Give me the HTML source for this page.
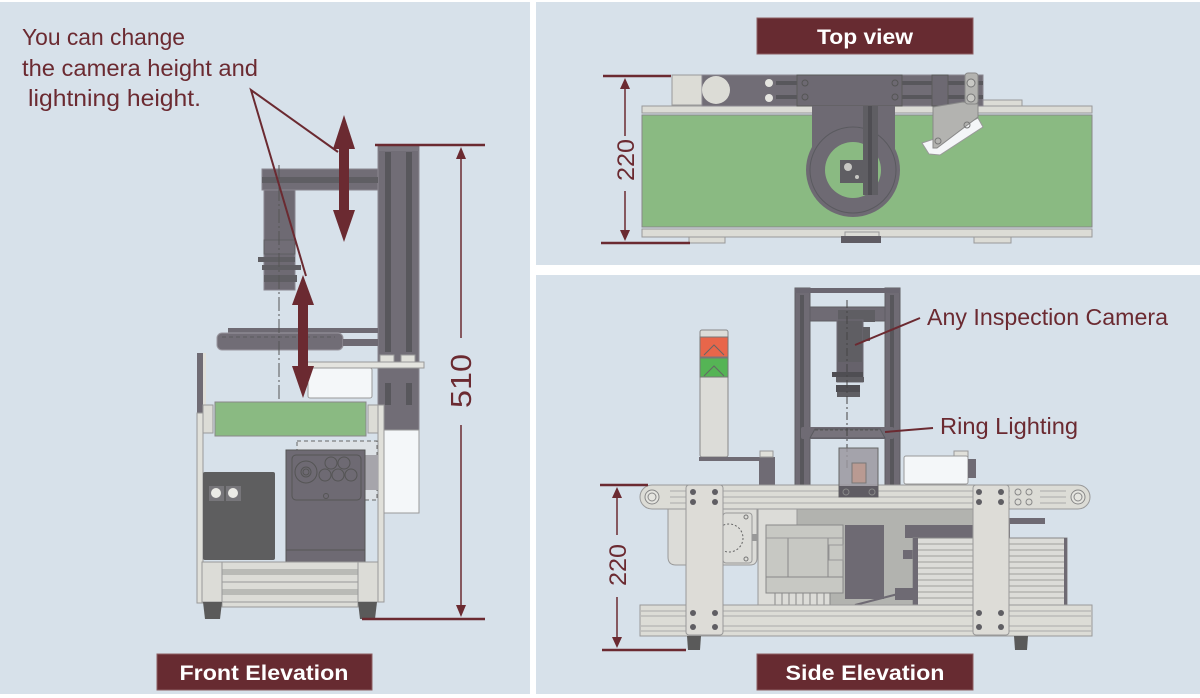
<!DOCTYPE html>
<html><head><meta charset="utf-8"><style>
html,body{margin:0;padding:0;background:#fff;}
svg{display:block;}
text{font-family:"Liberation Sans",sans-serif;}
</style></head><body>
<svg width="1200" height="698" viewBox="0 0 1200 698" xmlns="http://www.w3.org/2000/svg">
<rect width="1200" height="698" fill="#ffffff"/>
<rect x="0" y="2" width="530" height="692" fill="#d7e1ea"/>
<rect x="536" y="2" width="664" height="263" fill="#d7e1ea"/>
<rect x="536" y="275" width="664" height="419" fill="#d7e1ea"/>

<!-- ================= FRONT ELEVATION ================= -->
<g stroke-width="1">
<!-- column -->
<rect x="378" y="145" width="41" height="285" fill="#716d76" stroke="#8a8790"/>
<rect x="385" y="152" width="6" height="200" fill="#58575c"/>
<rect x="406" y="152" width="6" height="200" fill="#58575c"/>
<rect x="385" y="383" width="6" height="22" fill="#58575c"/>
<rect x="406" y="383" width="6" height="22" fill="#58575c"/>
<rect x="378" y="145" width="41" height="6" fill="#7b7780"/>
<!-- arm -->
<rect x="262" y="169" width="116" height="21" fill="#716d76" stroke="#8a8790"/>
<rect x="262" y="177" width="116" height="6" fill="#5f5e63"/>
<!-- camera body -->
<rect x="264" y="190" width="31" height="100" fill="#6e6a73" stroke="#8a8790"/>
<rect x="264" y="240" width="31" height="14" fill="#716d76" stroke="#5f5e63"/>
<rect x="258" y="257" width="37" height="5" fill="#5f5e63"/>
<rect x="262" y="265" width="39" height="5" fill="#5f5e63"/>
<rect x="264" y="275" width="33" height="7" fill="#5f5e63"/>
<!-- ring light -->
<rect x="228" y="328" width="150" height="5" fill="#6e6a73"/>
<rect x="217" y="333" width="126" height="17" rx="5" fill="#716d76" stroke="#9a98a0"/>
<line x1="222" y1="337" x2="335" y2="337" stroke="#5a5a5f" stroke-dasharray="4 3"/>
<rect x="343" y="339" width="35" height="7" fill="#6e6a73"/>
<!-- blocks & rail -->
<rect x="380" y="355" width="14" height="8" fill="#e0e0da" stroke="#999"/>
<rect x="401" y="355" width="14" height="8" fill="#e0e0da" stroke="#999"/>
<rect x="305" y="362" width="119" height="6" fill="#e4e4df" stroke="#999"/>
<rect x="308" y="368" width="64" height="30" rx="2" fill="#f4f7f9" stroke="#999"/>
<!-- white box under column -->
<rect x="383" y="430" width="36" height="83" fill="#f4f7f9" stroke="#999"/>
<!-- left posts -->
<rect x="197" y="353" width="9" height="60" fill="#6f6b74"/>
<rect x="203" y="353" width="3" height="60" fill="#e0e0da"/>
<rect x="197" y="413" width="6" height="190" fill="#e0e0da" stroke="#999"/>
<rect x="378" y="405" width="6" height="197" fill="#e0e0da" stroke="#999"/>
<!-- green roller -->
<rect x="215" y="402" width="151" height="34" fill="#8aba82" stroke="#888"/>
<rect x="203" y="405" width="10" height="28" fill="#dcdcd6" stroke="#999"/>
<rect x="368" y="405" width="10" height="28" fill="#dcdcd6" stroke="#999"/>
<!-- dashed box -->
<rect x="297" y="441" width="80" height="59" fill="#dde2e6" stroke="#666" stroke-dasharray="4 3"/>
<rect x="365" y="455" width="13" height="35" fill="#a6a5ab"/>
<!-- motor box -->
<rect x="286" y="450" width="79" height="112" fill="#6e6a73" stroke="#555"/>
<rect x="292" y="455" width="69" height="45" rx="4" fill="none" stroke="#555"/>
<line x1="286" y1="550" x2="365" y2="550" stroke="#555"/>
<circle cx="306" cy="472" r="11" fill="none" stroke="#555"/>
<circle cx="306" cy="472" r="5" fill="none" stroke="#555"/>
<circle cx="306" cy="472" r="3" fill="none" stroke="#555"/>
<circle cx="331" cy="463" r="6" fill="none" stroke="#555"/>
<circle cx="344" cy="463" r="6" fill="none" stroke="#555"/>
<circle cx="325" cy="475" r="6" fill="none" stroke="#555"/>
<circle cx="338" cy="475" r="6" fill="none" stroke="#555"/>
<circle cx="351" cy="475" r="6" fill="none" stroke="#555"/>
<circle cx="326" cy="496" r="2.5" fill="none" stroke="#555"/>
<!-- black box -->
<rect x="203" y="472" width="72" height="88" rx="2" fill="#5e5e5f"/>
<rect x="209" y="486" width="15" height="15" fill="#77767a"/>
<rect x="226" y="486" width="15" height="15" fill="#77767a"/>
<circle cx="216" cy="493" r="5" fill="#ebebe6"/>
<circle cx="233" cy="493" r="5" fill="#ebebe6"/>
<!-- base -->
<rect x="222" y="601" width="136" height="6" fill="#dcdcd7" stroke="#999"/>
<rect x="202" y="562" width="176" height="40" fill="#dcdcd7" stroke="#999"/>
<rect x="222" y="569" width="136" height="6" fill="#b9bab6"/>
<rect x="222" y="589" width="136" height="6" fill="#b9bab6"/>
<line x1="222" y1="562" x2="222" y2="602" stroke="#999"/>
<line x1="358" y1="562" x2="358" y2="602" stroke="#999"/>
<line x1="222" y1="582" x2="358" y2="582" stroke="#999"/>
<polygon points="203,602 222,602 220,619 205,619" fill="#5a5a5a"/>
<polygon points="358,602 377,602 375,619 360,619" fill="#5a5a5a"/>
<!-- center line -->
<line x1="279" y1="165" x2="279" y2="400" stroke="#555" stroke-dasharray="14 3 2 3"/>
</g>
<!-- arrows -->
<g fill="#6b2a31">
<polygon points="344,115 355,149 349,149 349,210 355,210 344,242 333,210 339,210 339,149 333,149"/>
<polygon points="303,275 314,305 308,305 308,366 314,366 303,398 292,366 298,366 298,305 292,305"/>
</g>
<g stroke="#6b2a31" stroke-width="2" fill="none">
<polyline points="338,152 251,90 306,276"/>
</g>
<!-- 510 dimension -->
<g stroke="#6b2a31">
<line x1="375" y1="145" x2="485" y2="145" stroke-width="2.5"/>
<line x1="362" y1="619" x2="485" y2="619" stroke-width="2.5"/>
<line x1="461" y1="150" x2="461" y2="338" stroke-width="1.5"/>
<line x1="461" y1="425" x2="461" y2="614" stroke-width="1.5"/>
</g>
<polygon points="461,147 456,159 466,159" fill="#6b2a31"/>
<polygon points="461,617 456,605 466,605" fill="#6b2a31"/>
<text x="0" y="0" transform="translate(471,381) rotate(-90)" text-anchor="middle" font-size="29" fill="#6b2a31" textLength="54" lengthAdjust="spacingAndGlyphs">510</text>
<!-- note text -->
<g fill="#6b2a31" font-size="23">
<text x="22" y="45" textLength="163" lengthAdjust="spacingAndGlyphs">You can change</text>
<text x="22" y="76" textLength="236" lengthAdjust="spacingAndGlyphs">the camera height and</text>
<text x="28" y="106" textLength="173" lengthAdjust="spacingAndGlyphs">lightning height.</text>
</g>

<!-- ================= TOP VIEW ================= -->
<g stroke-width="1">
<rect x="983" y="100" width="39" height="6" fill="#dcdcd6" stroke="#999"/>
<rect x="642" y="106" width="450" height="7" fill="#dcdcd6" stroke="#999"/>
<rect x="642" y="115" width="450" height="112" fill="#8aba82" stroke="#888"/>
<rect x="642" y="229" width="450" height="8" fill="#dcdcd6" stroke="#999"/>
<rect x="689" y="237" width="36" height="6" fill="#dcdcd6" stroke="#999"/>
<rect x="974" y="237" width="37" height="6" fill="#dcdcd6" stroke="#999"/>
<rect x="845" y="232" width="34" height="5" fill="#dcdcd6" stroke="#999"/>
<rect x="841" y="236" width="40" height="7" fill="#5f5c63"/>
<!-- top bar -->
<rect x="672" y="75" width="30" height="30" fill="#dcdcd6" stroke="#999"/>
<rect x="702" y="75" width="281" height="31" fill="#716d76" stroke="#8a8790"/>
<circle cx="716" cy="90" r="14" fill="#dcdcd6"/>
<rect x="776" y="81" width="207" height="4" fill="#58575c"/>
<rect x="776" y="95" width="207" height="4" fill="#58575c"/>
<circle cx="769" cy="83" r="4" fill="#e5e5e0"/>
<circle cx="769" cy="98" r="4" fill="#e5e5e0"/>
<rect x="797" y="75" width="105" height="31" fill="#6d6972" stroke="#5a5a5a"/>
<circle cx="805" cy="83" r="3" fill="none" stroke="#555"/>
<circle cx="805" cy="97" r="3" fill="none" stroke="#555"/>
<circle cx="895" cy="83" r="3" fill="none" stroke="#555"/>
<circle cx="895" cy="97" r="3" fill="none" stroke="#555"/>
<rect x="932" y="75" width="16" height="31" fill="#6d6972" stroke="#5a5a5a"/>
<!-- camera plate -->
<rect x="812" y="106" width="83" height="64" fill="#6e6a73"/>
<circle cx="853" cy="170" r="47" fill="#6e6a73"/>
<circle cx="853" cy="170" r="43" fill="none" stroke="#5a5a5f"/>
<circle cx="853" cy="170" r="28" fill="#8aba82"/>
<rect x="863" y="106" width="15" height="89" fill="#5f5e63"/>
<rect x="868" y="106" width="4" height="89" fill="#4f4e53"/>
<rect x="840" y="160" width="23" height="23" fill="#5f5e63"/>
<circle cx="848" cy="167" r="4" fill="#c8c8c4"/>
<circle cx="857" cy="177" r="2" fill="#c8c8c4"/>
<!-- bracket -->
<polygon points="922,143 937,138 978,118 983,127 940,155 929,154" fill="#f4f6f8" stroke="#999"/>
<polygon points="933,107 963,102 978,104 978,117 937,148 933,148" fill="#b3b3b0" stroke="#888"/>
<rect x="965" y="73" width="13" height="31" rx="3" fill="#b3b3b0" stroke="#888"/>
<circle cx="971" cy="83" r="4" fill="#c8c8c4" stroke="#777"/>
<circle cx="971" cy="98" r="4" fill="#c8c8c4" stroke="#777"/>
<circle cx="967" cy="125" r="3" fill="none" stroke="#777"/>
<circle cx="938" cy="141" r="3" fill="none" stroke="#777"/>
</g>
<!-- 220 top dim -->
<g stroke="#6b2a31">
<line x1="603" y1="76" x2="671" y2="76" stroke-width="2.5"/>
<line x1="601" y1="243" x2="690" y2="243" stroke-width="2.5"/>
<line x1="625" y1="80" x2="625" y2="136" stroke-width="1.5"/>
<line x1="625" y1="191" x2="625" y2="239" stroke-width="1.5"/>
</g>
<polygon points="625,78 620,89 630,89" fill="#6b2a31"/>
<polygon points="625,241 620,230 630,230" fill="#6b2a31"/>
<text transform="translate(634,160) rotate(-90)" text-anchor="middle" font-size="24" fill="#6b2a31" textLength="42" lengthAdjust="spacingAndGlyphs">220</text>

<!-- ================= SIDE ELEVATION ================= -->
<g stroke-width="1">
<!-- frame -->
<rect x="795" y="288" width="15" height="200" fill="#6f6b74" stroke="#5f5e63"/>
<rect x="885" y="288" width="15" height="200" fill="#6f6b74" stroke="#5f5e63"/>
<rect x="800" y="295" width="4" height="192" fill="#58575c"/>
<rect x="890" y="295" width="4" height="192" fill="#58575c"/>
<rect x="795" y="288" width="105" height="5" fill="#6a6670"/>
<rect x="810" y="307" width="75" height="14" fill="#6f6b74" stroke="#5f5e63"/>
<!-- camera -->
<rect x="838" y="310" width="37" height="12" fill="#5f5e63"/>
<rect x="837" y="320" width="26" height="62" fill="#5f5e63" stroke="#6f6b74"/>
<rect x="863" y="327" width="7" height="14" fill="#5f5e63"/>
<rect x="837" y="362" width="26" height="10" fill="#66626b"/>
<rect x="832" y="372" width="31" height="5" fill="#4f4e53"/>
<rect x="836" y="377" width="28" height="5" fill="#5f5e63"/>
<rect x="836" y="385" width="24" height="7" fill="#4f4e53"/>
<rect x="837" y="392" width="23" height="5" fill="#5f5e63"/>
<!-- ring light -->
<rect x="801" y="427" width="93" height="12" rx="2" fill="#6f6b74"/>
<polygon points="815,429 880,429 885,438 810,438" fill="#77737c" stroke="#5a5a5f"/>
<line x1="815" y1="430" x2="880" y2="430" stroke="#555" stroke-dasharray="3 2"/>
<!-- center line -->
<line x1="847" y1="300" x2="847" y2="470" stroke="#444" stroke-dasharray="8 3 2 3"/>
<!-- tower -->
<rect x="700" y="330" width="28" height="127" rx="2" fill="#dcdcd8" stroke="#888"/>
<rect x="700" y="337" width="28" height="20" fill="#e8664a" stroke="#777"/>
<rect x="700" y="358" width="28" height="19" fill="#55b455" stroke="#777"/>
<polyline points="704,355 714,345 724,355" fill="none" stroke="#666"/>
<polyline points="704,376 714,366 724,376" fill="none" stroke="#666"/>
<rect x="699" y="457" width="76" height="4" fill="#6f6b74"/>
<rect x="759" y="461" width="16" height="25" fill="#6f6b74"/>
<rect x="760" y="451" width="13" height="6" fill="#e0e0da" stroke="#999"/>
<!-- white box right -->
<rect x="954" y="451" width="14" height="6" fill="#e0e0da" stroke="#999"/>
<rect x="904" y="456" width="64" height="28" rx="2" fill="#f4f7f9" stroke="#999"/>
<rect x="968" y="459" width="8" height="19" fill="#6f6b74"/>
<!-- internals -->
<rect x="797" y="509" width="176" height="96" fill="#b2b3af"/>
<rect x="758" y="509" width="39" height="96" fill="#dcdcd8" stroke="#999"/>
<path d="M668,509 H757 V558 Q757,565 750,565 H676 Q668,565 668,557 Z" fill="#dcdcd8" stroke="#999"/>
<rect x="723" y="513" width="29" height="50" rx="3" fill="#dcdcd8" stroke="#999"/>
<circle cx="729" cy="538" r="14" fill="none" stroke="#666" stroke-dasharray="2 2"/>
<rect x="752" y="534" width="5" height="7" fill="#999"/>
<circle cx="746" cy="517" r="2" fill="none" stroke="#777"/>
<circle cx="746" cy="559" r="2" fill="none" stroke="#777"/>
<!-- PLC -->
<rect x="766" y="525" width="77" height="68" fill="#c7c8c3" stroke="#888"/>
<line x1="766" y1="577" x2="843" y2="577" stroke="#888"/>
<line x1="788" y1="538" x2="788" y2="577" stroke="#888"/>
<line x1="828" y1="538" x2="828" y2="577" stroke="#888"/>
<line x1="766" y1="538" x2="843" y2="538" stroke="#999"/>
<rect x="829" y="545" width="14" height="15" fill="none" stroke="#999"/>
<g stroke="#888">
<rect x="775" y="593" width="55" height="12" fill="#dcdcd8"/>
<line x1="782" y1="593" x2="782" y2="605"/><line x1="789" y1="593" x2="789" y2="605"/>
<line x1="796" y1="593" x2="796" y2="605"/><line x1="803" y1="593" x2="803" y2="605"/>
<line x1="810" y1="593" x2="810" y2="605"/><line x1="817" y1="593" x2="817" y2="605"/>
<line x1="824" y1="593" x2="824" y2="605"/>
</g>
<rect x="845" y="525" width="39" height="74" fill="#6e6a73"/>
<rect x="905" y="525" width="68" height="13" fill="#6e6a73"/>
<rect x="903" y="550" width="10" height="9" fill="#6e6a73"/>
<rect x="973" y="518" width="72" height="6" fill="#6e6a73"/>
<rect x="1000" y="518" width="10" height="20" fill="#6e6a73"/>
<rect x="913" y="538" width="154" height="67" fill="#dcdcd8" stroke="#888"/>
<g stroke="#a0a09c">
<line x1="918" y1="544" x2="1064" y2="544"/><line x1="918" y1="550" x2="1064" y2="550"/>
<line x1="918" y1="556" x2="1064" y2="556"/><line x1="918" y1="562" x2="1064" y2="562"/>
<line x1="918" y1="568" x2="1064" y2="568"/><line x1="918" y1="574" x2="1064" y2="574"/>
<line x1="918" y1="580" x2="1064" y2="580"/><line x1="918" y1="586" x2="1064" y2="586"/>
<line x1="918" y1="592" x2="1064" y2="592"/><line x1="918" y1="598" x2="1064" y2="598"/>
</g>
<rect x="913" y="538" width="5" height="67" fill="#6e6a73"/>
<rect x="1064" y="538" width="3" height="67" fill="#6e6a73"/>
<rect x="895" y="588" width="18" height="12" fill="#6e6a73"/>
<line x1="855" y1="605" x2="898" y2="594" stroke="#6e6a73" stroke-width="2"/>
<!-- top rail -->
<rect x="640" y="485" width="450" height="24" rx="12" fill="#dcdcd6" stroke="#999"/>
<line x1="664" y1="491" x2="1066" y2="491" stroke="#aaa"/>
<line x1="664" y1="497" x2="1066" y2="497" stroke="#aaa"/>
<line x1="664" y1="503" x2="1066" y2="503" stroke="#aaa"/>
<rect x="652" y="487" width="18" height="20" fill="#dcdcd6"/>
<circle cx="652" cy="497" r="7" fill="#e5e5e0" stroke="#888"/>
<circle cx="652" cy="497" r="4" fill="none" stroke="#888"/>
<circle cx="1078" cy="497" r="7" fill="#e5e5e0" stroke="#888"/>
<circle cx="1078" cy="497" r="4" fill="none" stroke="#888"/>
<rect x="1010" y="487" width="30" height="20" fill="#dcdcd6"/>
<circle cx="1018" cy="492" r="3" fill="none" stroke="#888"/>
<circle cx="1029" cy="492" r="3" fill="none" stroke="#888"/>
<circle cx="1018" cy="502" r="3" fill="none" stroke="#888"/>
<circle cx="1029" cy="502" r="3" fill="none" stroke="#888"/>
<!-- box under ring -->
<rect x="839" y="448" width="39" height="49" fill="#9b98a0" fill-opacity="0.85" stroke="#666"/>
<rect x="852" y="463" width="14" height="20" fill="#b99a92" stroke="#777"/>
<rect x="839" y="486" width="39" height="11" fill="#5f5c63"/>
<circle cx="846" cy="492" r="3" fill="none" stroke="#888"/>
<circle cx="872" cy="492" r="3" fill="none" stroke="#888"/>
<!-- bottom rail -->
<rect x="640" y="605" width="452" height="31" fill="#dcdcd6" stroke="#999"/>
<line x1="641" y1="611" x2="1091" y2="611" stroke="#aaa"/>
<line x1="641" y1="616" x2="1091" y2="616" stroke="#aaa"/>
<line x1="641" y1="626" x2="1091" y2="626" stroke="#aaa"/>
<line x1="641" y1="631" x2="1091" y2="631" stroke="#aaa"/>
<!-- plates -->
<rect x="686" y="485" width="37" height="150" rx="3" fill="#dddcd7" stroke="#999"/>
<rect x="973" y="485" width="36" height="150" rx="3" fill="#dddcd7" stroke="#999"/>
<g fill="#5f5e63">
<circle cx="693" cy="492" r="3"/><circle cx="715" cy="492" r="3"/>
<circle cx="693" cy="502" r="3"/><circle cx="715" cy="502" r="3"/>
<circle cx="693" cy="613" r="3"/><circle cx="715" cy="613" r="3"/>
<circle cx="693" cy="627" r="3"/><circle cx="715" cy="627" r="3"/>
<circle cx="979" cy="492" r="3"/><circle cx="1001" cy="492" r="3"/>
<circle cx="979" cy="502" r="3"/><circle cx="1001" cy="502" r="3"/>
<circle cx="979" cy="613" r="3"/><circle cx="1001" cy="613" r="3"/>
<circle cx="979" cy="627" r="3"/><circle cx="1001" cy="627" r="3"/>
</g>
<polygon points="687,636 701,636 700,650 688,650" fill="#5a5a5a"/>
<polygon points="1014,636 1028,636 1027,650 1015,650" fill="#5a5a5a"/>
</g>
<!-- side dim -->
<g stroke="#6b2a31">
<line x1="600" y1="485" x2="648" y2="485" stroke-width="2.5"/>
<line x1="602" y1="650" x2="686" y2="650" stroke-width="2.5"/>
<line x1="617" y1="489" x2="617" y2="535" stroke-width="1.5"/>
<line x1="617" y1="597" x2="617" y2="646" stroke-width="1.5"/>
</g>
<polygon points="617,487 612,498 622,498" fill="#6b2a31"/>
<polygon points="617,648 612,637 622,637" fill="#6b2a31"/>
<text transform="translate(626,565) rotate(-90)" text-anchor="middle" font-size="24" fill="#6b2a31" textLength="42" lengthAdjust="spacingAndGlyphs">220</text>
<!-- callouts -->
<line x1="920" y1="318" x2="855" y2="345" stroke="#6b2a31" stroke-width="2"/>
<line x1="933" y1="428" x2="885" y2="432" stroke="#6b2a31" stroke-width="2"/>
<text x="927" y="325" font-size="23" fill="#6b2a31" textLength="241" lengthAdjust="spacingAndGlyphs">Any Inspection Camera</text>
<text x="940" y="434" font-size="23" fill="#6b2a31" textLength="138" lengthAdjust="spacingAndGlyphs">Ring Lighting</text>

<!-- label boxes -->
<g font-weight="bold" fill="#ffffff" font-size="21">
<rect x="757" y="18" width="216" height="36" fill="#672b31" stroke="#8e5f63"/>
<text x="865" y="44" text-anchor="middle" textLength="96" lengthAdjust="spacingAndGlyphs">Top view</text>
<rect x="157" y="654" width="215" height="36" fill="#672b31" stroke="#8e5f63"/>
<text x="264" y="680" text-anchor="middle" textLength="169" lengthAdjust="spacingAndGlyphs">Front Elevation</text>
<rect x="757" y="654" width="216" height="36" fill="#672b31" stroke="#8e5f63"/>
<text x="865" y="680" text-anchor="middle" textLength="159" lengthAdjust="spacingAndGlyphs">Side Elevation</text>
</g>
</svg>
</body></html>
